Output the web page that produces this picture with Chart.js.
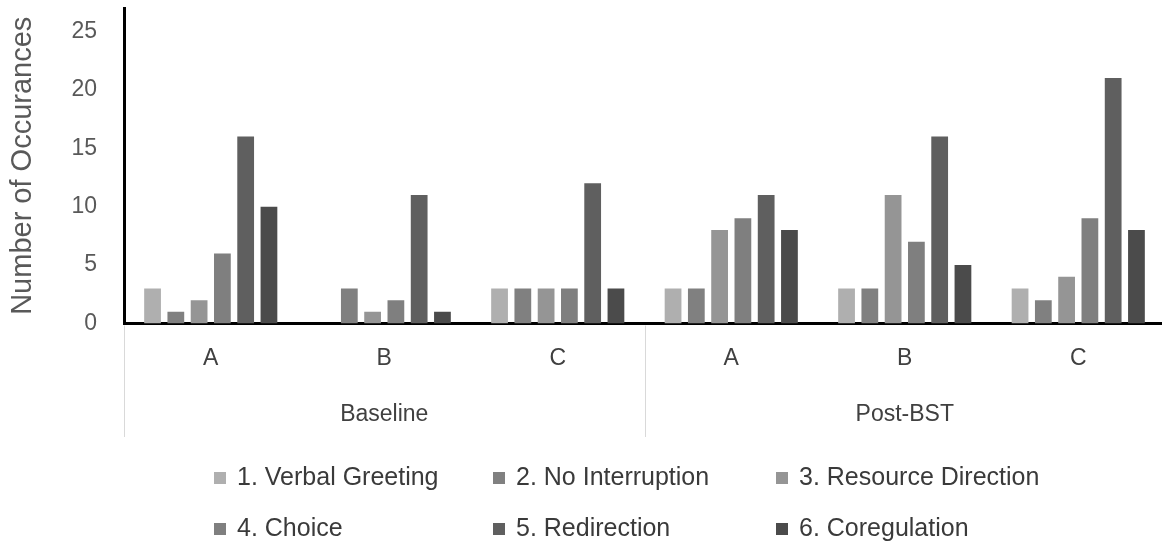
<!DOCTYPE html>
<html>
<head>
<meta charset="utf-8">
<script src="https://cdn.jsdelivr.net/npm/chart.js@4/dist/chart.umd.min.js"></script>
<style>
  html, body { margin: 0; padding: 0; background: #ffffff; overflow: hidden; }
  #wrap { width: 1166px; height: 552px; }
</style>
</head>
<body>
<div id="wrap"><canvas id="chart" width="1166" height="552"></canvas></div>
<script>
// Phases and participants along the horizontal axis
const phases = ['Baseline', 'Post-BST'];
const participants = ['A', 'B', 'C'];
const categories = ['A', 'B', 'C', 'A', 'B', 'C'];

// Occurrences of each behaviour, per participant (Baseline A-C, then Post-BST A-C)
const verbalGreeting    = [3, 0, 3, 3, 3, 3];
const noInterruption    = [1, 3, 3, 3, 3, 2];
const resourceDirection = [2, 1, 3, 8, 11, 4];
const choice            = [6, 2, 3, 9, 7, 9];
const redirection       = [16, 11, 12, 11, 16, 21];
const coregulation      = [10, 1, 3, 8, 5, 8];

const seriesNames = ['1. Verbal Greeting', '2. No Interruption', '3. Resource Direction',
                     '4. Choice', '5. Redirection', '6. Coregulation'];
const seriesValues = [verbalGreeting, noInterruption, resourceDirection, choice, redirection, coregulation];
const seriesColors = ['#afafaf', '#808080', '#959595', '#7f7f7f', '#5f5f5f', '#4b4b4b'];

const yTicks = [0, 5, 10, 15, 20, 25];
const yMax = 27;

const FONT = "'Liberation Sans', Arial, sans-serif";

// Phase labels under the participant letters, with light separators
const phaseGroups = {
  id: 'phaseGroups',
  afterDraw(chart) {
    const ctx = chart.ctx;
    const x = chart.scales.x;
    const area = chart.chartArea;
    const per = participants.length;
    const y0 = area.bottom + 2;
    const y1 = 437;
    ctx.save();
    ctx.strokeStyle = '#d9d9d9';
    ctx.lineWidth = 1;
    const edges = [area.left];
    for (let g = 1; g < phases.length; g++) {
      edges.push((x.getPixelForValue(g * per - 1) + x.getPixelForValue(g * per)) / 2);
    }
    edges.push(area.right);
    edges.forEach(px => {
      const p = Math.round(px) + 0.5;
      ctx.beginPath();
      ctx.moveTo(p, y0);
      ctx.lineTo(p, y1);
      ctx.stroke();
    });
    ctx.fillStyle = '#404040';
    ctx.font = '23px ' + FONT;
    ctx.textAlign = 'center';
    ctx.textBaseline = 'middle';
    phases.forEach((name, g) => {
      const cx = (x.getPixelForValue(g * per) + x.getPixelForValue(g * per + per - 1)) / 2;
      ctx.fillText(name, cx, 415);
    });
    ctx.restore();
  }
};

// Two-row legend laid out in three fixed columns
const gridLegend = {
  id: 'gridLegend',
  afterDraw(chart) {
    const ctx = chart.ctx;
    const cols = [214, 493, 776];
    const rows = [478, 529];
    ctx.save();
    ctx.font = '25px ' + FONT;
    ctx.textBaseline = 'middle';
    ctx.textAlign = 'left';
    chart.data.datasets.forEach((ds, i) => {
      const cx = cols[i % 3];
      const cy = rows[Math.floor(i / 3)];
      ctx.fillStyle = ds.backgroundColor;
      ctx.fillRect(cx, cy - 6, 12, 12);
      ctx.fillStyle = '#3a3a3a';
      ctx.fillText(ds.label, cx + 23, cy);
    });
    ctx.restore();
  }
};

new Chart(document.getElementById('chart'), {
  type: 'bar',
  data: {
    labels: categories,
    datasets: seriesNames.map((name, i) => ({
      label: name,
      data: seriesValues[i],
      backgroundColor: seriesColors[i],
      borderWidth: 0,
      categoryPercentage: 0.805,
      barPercentage: 0.72
    }))
  },
  options: {
    responsive: false,
    devicePixelRatio: 1,
    animation: false,
    layout: { padding: { top: 8, right: 1, bottom: 0, left: 0 } },
    plugins: {
      legend: { display: false },
      tooltip: { enabled: false }
    },
    scales: {
      x: {
        grid: { display: false, drawTicks: false },
        border: { display: true, color: '#000000', width: 3 },
        ticks: {
          color: '#404040',
          font: { family: FONT, size: 23 },
          padding: 21,
          maxRotation: 0
        },
        afterFit(scale) {
          scale.height = 228.5;
          scale.paddingLeft = 0;
          scale.paddingRight = 0;
        }
      },
      y: {
        min: 0,
        max: yMax,
        grid: { display: false, drawTicks: false },
        border: { display: true, color: '#000000', width: 3 },
        ticks: {
          color: '#595959',
          font: { family: FONT, size: 23 },
          padding: 27
        },
        afterBuildTicks(scale) { scale.ticks = yTicks.map(v => ({ value: v })); },
        afterFit(scale) {
          scale.width = 124;
          scale.paddingTop = 0;
          scale.paddingBottom = 0;
        },
        title: {
          display: true,
          text: 'Number of Occurances',
          color: '#595959',
          font: { family: FONT, size: 29 },
          padding: { top: 6, bottom: 0 }
        }
      }
    }
  },
  plugins: [phaseGroups, gridLegend]
});
</script>
</body>
</html>
